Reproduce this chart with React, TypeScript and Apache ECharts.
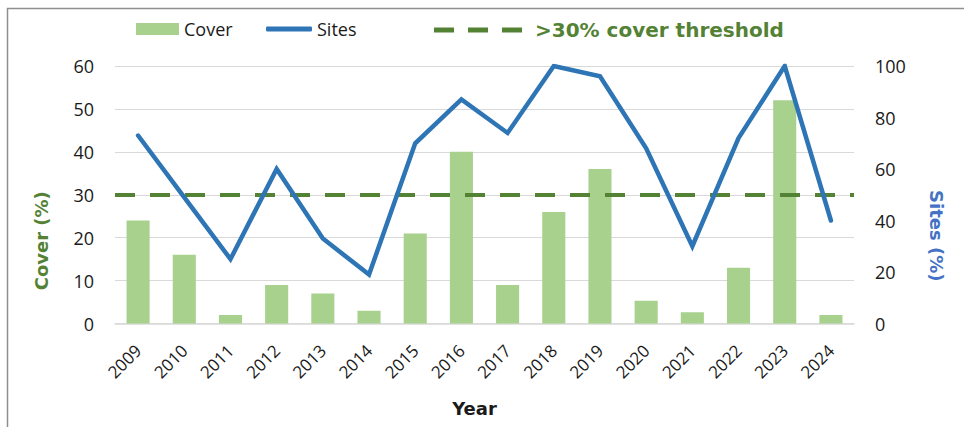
import React, { useEffect, useRef } from "react";
import * as echarts from "echarts";

const years = ["2009","2010","2011","2012","2013","2014","2015","2016","2017","2018","2019","2020","2021","2022","2023","2024"];
const coverValues = [24, 16, 2, 9, 7, 3, 21, 40, 9, 26, 36, 5.3, 2.6, 13, 52, 2];
const sitesValues = [73, 49, 25, 60, 33, 19, 70, 87, 74, 100, 96, 68, 30, 72, 100, 40];
const THRESHOLD = 30;
const coverTicks = { min: 0, max: 60, interval: 10 };
const sitesTicks = { min: 0, max: 100, interval: 20 };

const TITLE_FONT = "'DejaVu Sans', sans-serif";
const LABEL_FONT = "'Open Sans', 'Noto Sans', sans-serif";

export default function App() {
  const ref = useRef<HTMLDivElement>(null);
  useEffect(() => {
    if (!ref.current) return;
    const chart = echarts.init(ref.current, null, { renderer: "svg" });
    chart.setOption({
      animation: false,
      backgroundColor: "#ffffff",
      graphic: [
        {
          type: "rect",
          shape: { x: 7.5, y: 8.5, width: 1000, height: 500 },
          style: { fill: "none", stroke: "#8f8f8f", lineWidth: 1.5 },
          silent: true,
        },
      ],
      legend: [
        {
          data: [{ name: "Cover", icon: "rect" }],
          left: 136,
          top: 20,
          padding: 0,
          itemWidth: 43,
          itemHeight: 12,
          textStyle: { fontFamily: LABEL_FONT, fontSize: 18, color: "#1a1a1a" },
        },
        {
          data: [{ name: "Sites", icon: "roundRect" }],
          left: 266,
          top: 20,
          padding: 0,
          itemWidth: 46,
          itemHeight: 5,
          textStyle: { fontFamily: LABEL_FONT, fontSize: 18, color: "#1a1a1a" },
        },
        {
          data: [
            {
              name: ">30% cover threshold",
              icon: "path://M0,0H20V5H0Z M34,0H54V5H34Z M68,0H88V5H68Z",
              itemStyle: { color: "#548235" },
            },
          ],
          left: 434,
          top: 20,
          padding: 0,
          itemWidth: 88,
          itemHeight: 5,
          formatter: (n: string) => `{t|${n}}`,
          textStyle: {
            rich: {
              t: {
                fontFamily: TITLE_FONT,
                fontWeight: "bold",
                fontSize: 20,
                color: "#548235",
                padding: [0, 0, 0, 8],
              },
            },
          },
        },
      ],
      grid: { left: 115, right: 110, top: 66, bottom: 103.5, containLabel: false },
      xAxis: {
        type: "category",
        data: years,
        axisLine: { show: true, lineStyle: { color: "#d9d9d9", width: 1.5 } },
        axisTick: { show: false },
        axisLabel: {
          rotate: 45,
          margin: 24,
          fontFamily: LABEL_FONT,
          fontSize: 17,
          color: "#1a1a1a",
          interval: 0,
        },
        name: "Year",
        nameLocation: "middle",
        nameGap: 76,
        nameTextStyle: {
          fontFamily: TITLE_FONT,
          fontWeight: "bold",
          fontSize: 18,
          color: "#1a1a1a",
          padding: [0, 20, 0, 0],
        },
      },
      yAxis: [
        {
          type: "value",
          ...coverTicks,
          position: "left",
          axisLine: { show: false },
          axisTick: { show: false },
          splitLine: { lineStyle: { color: "#d9d9d9", width: 1.2 } },
          axisLabel: { fontFamily: LABEL_FONT, fontSize: 18, color: "#1a1a1a", margin: 21 },
          name: "Cover (%)",
          nameLocation: "middle",
          nameGap: 65,
          nameRotate: 90,
          nameTextStyle: {
            fontFamily: TITLE_FONT,
            fontWeight: "bold",
            fontSize: 18,
            color: "#548235",
            padding: [0, 92, 0, 0],
          },
        },
        {
          type: "value",
          ...sitesTicks,
          position: "right",
          axisLine: { show: false },
          axisTick: { show: false },
          splitLine: { show: false },
          axisLabel: { fontFamily: LABEL_FONT, fontSize: 18, color: "#1a1a1a", margin: 21 },
          name: "Sites (%)",
          nameLocation: "middle",
          nameGap: 73,
          nameRotate: -90,
          nameTextStyle: {
            fontFamily: TITLE_FONT,
            fontWeight: "bold",
            fontSize: 18,
            color: "#4472C4",
            padding: [0, 0, 0, 82],
          },
        },
      ],
      series: [
        {
          name: "Cover",
          type: "bar",
          data: coverValues,
          yAxisIndex: 0,
          barCategoryGap: "50%",
          itemStyle: { color: "#A9D18E" },
          z: 2,
        },
        {
          name: ">30% cover threshold",
          type: "line",
          data: [],
          yAxisIndex: 0,
          itemStyle: { color: "#548235" },
          lineStyle: { color: "#548235" },
          z: 3,
          markLine: {
            silent: true,
            symbol: ["none", "none"],
            label: { show: false },
            lineStyle: { color: "#548235", width: 4, type: [20, 15] },
            data: [{ yAxis: THRESHOLD }],
            z: 3,
          },
        },
        {
          name: "Sites",
          type: "line",
          data: sitesValues,
          yAxisIndex: 1,
          showSymbol: false,
          symbol: "none",
          itemStyle: { color: "#2E75B6" },
          lineStyle: { color: "#2E75B6", width: 4.5, cap: "round", join: "miter" },
          z: 5,
        },
      ],
    });
    return () => chart.dispose();
  }, []);
  return (
    <div
      ref={ref}
      style={{ position: "absolute", left: 0, top: 0, width: 964, height: 427 }}
    />
  );
}
